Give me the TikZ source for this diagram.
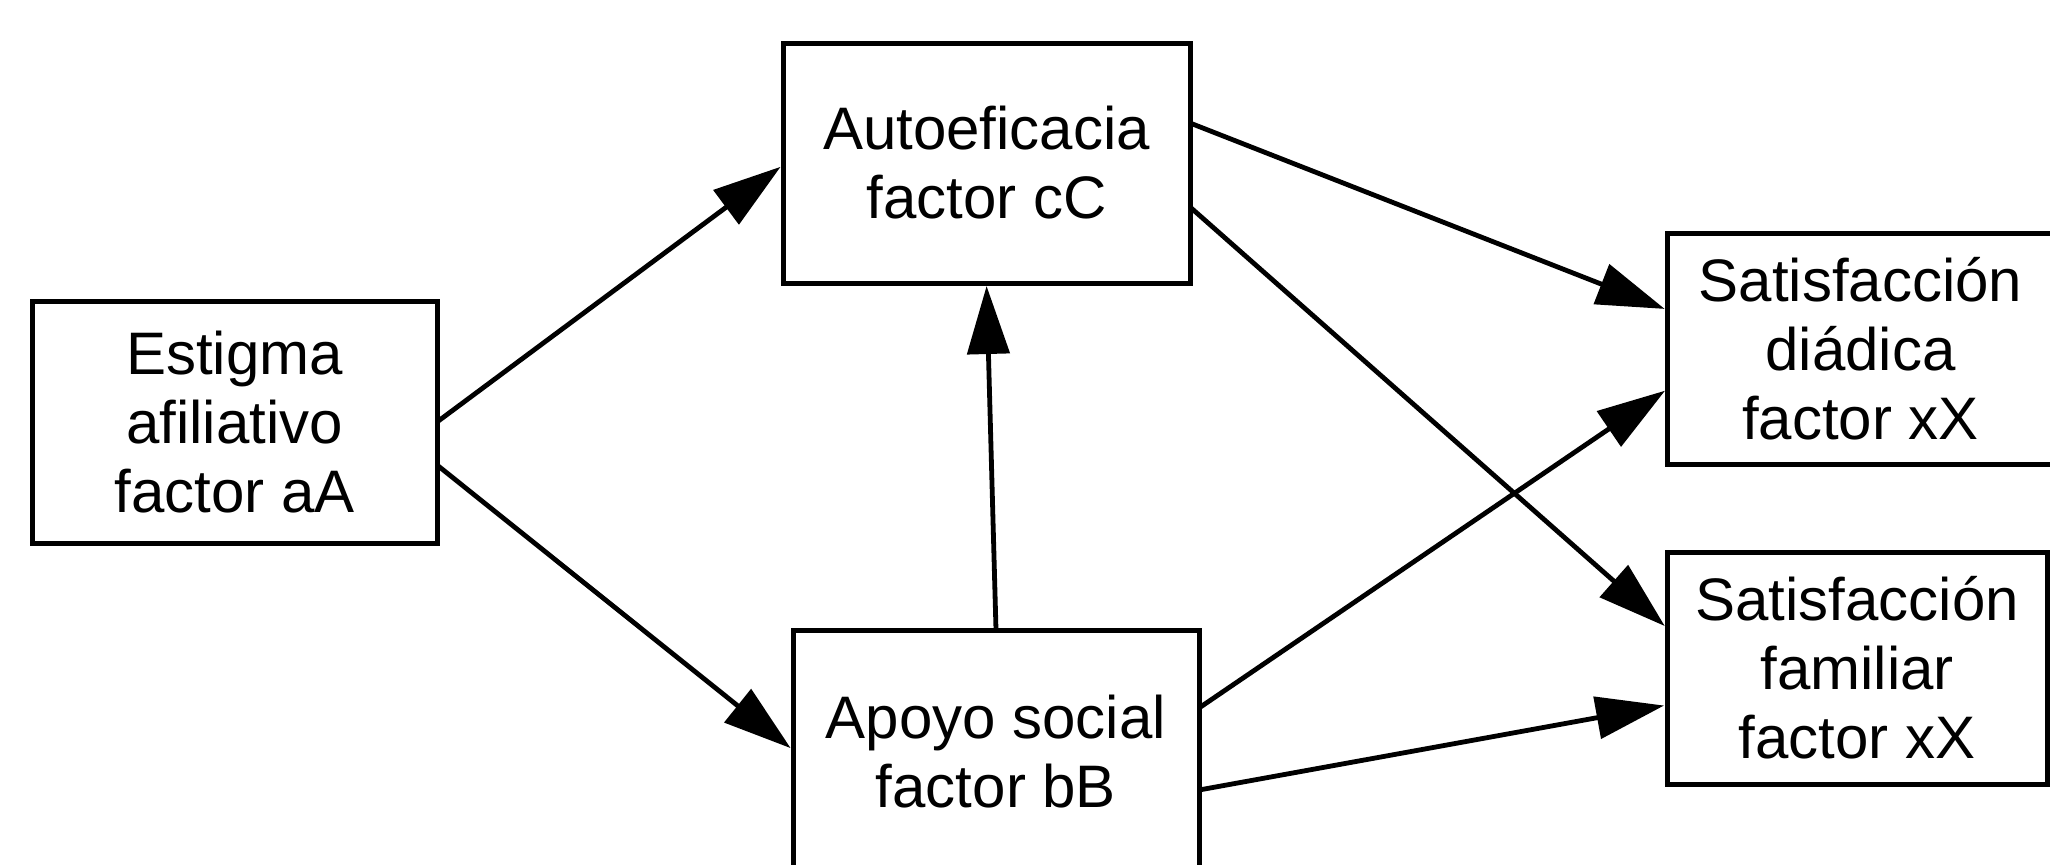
\documentclass[tikz,border=0pt]{standalone}
\usepackage{fontspec}
\setmainfont{Liberation Sans}
\usetikzlibrary{arrows.meta,calc}
\begin{document}
\begin{tikzpicture}[x=0.5pt,y=-0.5pt,
  box/.style={draw=black,line width=2.5pt,rectangle,inner sep=0pt,outer sep=0pt,
    align=center,font=\fontsize{30pt}{34.5pt}\selectfont},
  arr/.style={line width=2.4pt,-{Triangle[length=34pt,width=21pt]},shorten >=1.5pt}]
\useasboundingbox (0,0) rectangle (2050,864);
\clip (0,0) rectangle (2050,864);
\fill[white] (0,0) rectangle (2050,864);
\node[box,minimum width=202.5pt,minimum height=121pt] (est) at (234.5,422) {Estigma\\afiliativo\\factor aA};
\node[box,minimum width=203.5pt,minimum height=120pt] (aut) at (986.5,163) {Autoeficacia\\factor cC};
\node[box,minimum width=203pt,minimum height=122pt] (apo) at (996,752) {Apoyo social\\factor bB};
\node[box,minimum width=193pt,minimum height=115.5pt] (sd) at (1860.5,348.5) {Satisfacción\\diádica\\factor xX};
\node[box,minimum width=190pt,minimum height=116pt] (sf) at (1857,668) {Satisfacción\\familiar\\factor xX};
\draw[arr] ($(est.north east)+(0,121)$) -- ($(aut.north west)+(0,122)$);
\draw[arr] ($(est.north east)+(0,164)$) -- ($(apo.north west)+(0,120)$);
\draw[arr] (apo.north) -- (aut.south);
\draw[arr] ($(aut.north east)+(0,80)$) -- ($(sd.north west)+(0,77)$);
\draw[arr] ($(aut.north east)+(0,164)$) -- ($(sf.north west)+(0,76)$);
\draw[arr] ($(apo.north east)+(0,78)$) -- ($(sd.north west)+(0,156)$);
\draw[arr] ($(apo.north east)+(0,160)$) -- ($(sf.north west)+(0,153)$);
\end{tikzpicture}
\end{document}
